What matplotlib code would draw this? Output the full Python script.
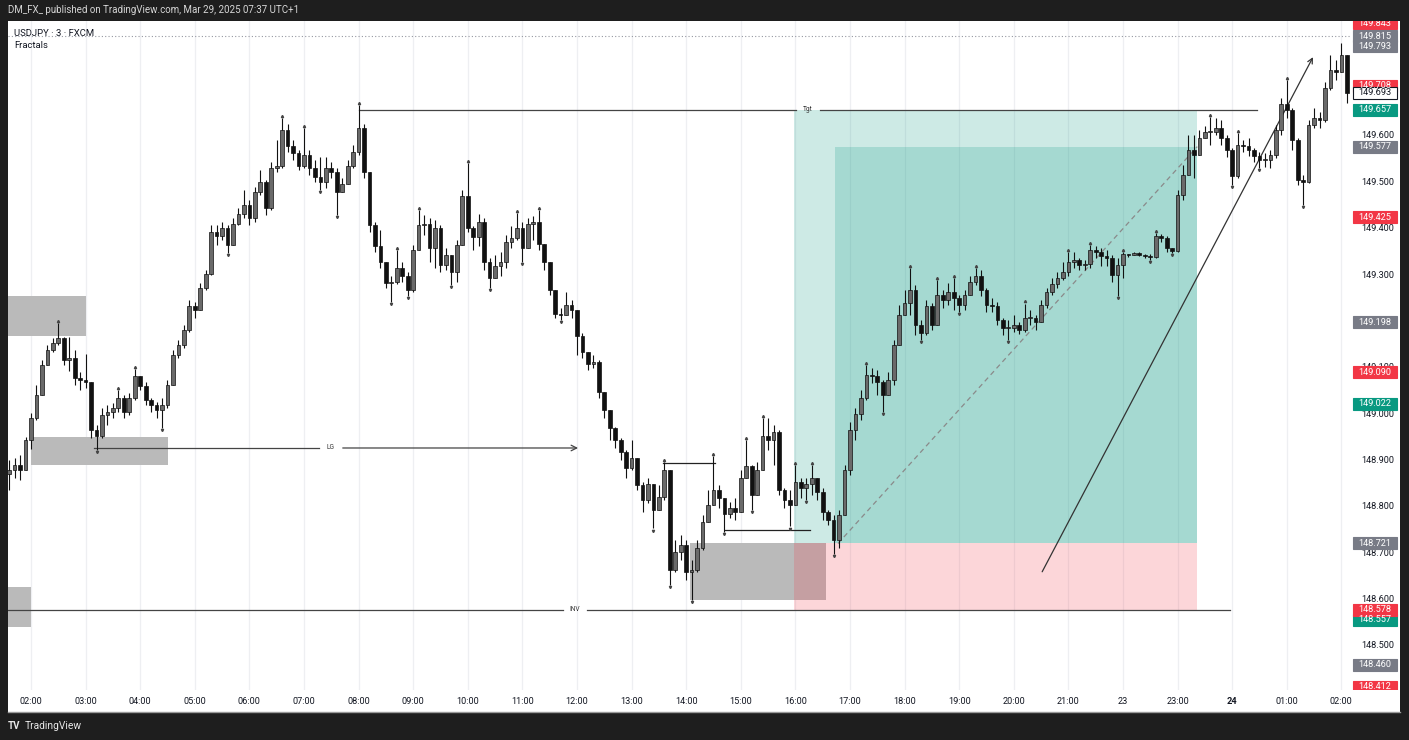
import matplotlib
matplotlib.use("Agg")
import matplotlib.pyplot as plt
import numpy as np
from matplotlib.patches import Rectangle

plt.rcParams['font.family'] = ['Roboto', 'DejaVu Sans']

# ---------------- data (USDJPY, 6-minute bars, time in hours after 02:00) ----------------
bar_hours = 0.1
first_bar_time = -0.4
first_open = 148.870

closes = [
148.880,148.890,148.880,148.944,148.992,149.042,149.106,149.138,149.153,149.164,
149.117,149.121,149.078,149.074,149.070,148.966,148.953,148.998,149.005,149.014,
149.035,149.005,149.035,149.083,149.061,149.031,149.020,149.009,149.020,149.063,
149.128,149.149,149.182,149.233,149.225,149.272,149.302,149.393,149.384,149.402,
149.365,149.410,149.432,149.451,149.423,149.479,149.501,149.445,149.531,149.535,
149.613,149.578,149.563,149.535,149.559,149.531,149.512,149.501,149.531,149.522,
149.479,149.497,149.535,149.566,149.617,149.522,149.408,149.363,149.328,149.283,
149.285,149.315,149.298,149.268,149.354,149.408,149.410,149.359,149.402,149.322,
149.343,149.307,149.365,149.471,149.402,149.382,149.415,149.328,149.294,149.320,
149.328,149.372,149.380,149.402,149.359,149.410,149.415,149.367,149.328,149.268,
149.216,149.214,149.235,149.225,149.169,149.134,149.108,149.112,149.048,149.009,
148.970,148.944,148.918,148.884,148.905,148.847,148.815,148.849,148.793,148.821,
148.880,148.664,148.703,148.718,148.660,148.664,148.711,148.767,148.804,148.836,
148.819,148.785,148.798,148.789,148.862,148.888,148.825,148.880,148.953,148.944,
148.962,148.836,148.815,148.804,148.854,148.841,148.849,148.862,148.832,148.789,
148.772,148.729,148.782,148.880,148.966,149.001,149.035,149.085,149.083,149.070,
149.042,149.074,149.149,149.214,149.240,149.268,149.192,149.175,149.233,149.192,
149.257,149.246,149.263,149.250,149.235,149.257,149.285,149.298,149.268,149.235,
149.233,149.203,149.186,149.186,149.192,149.182,149.207,149.207,149.199,149.235,
149.263,149.281,149.294,149.307,149.328,149.333,149.322,149.324,149.354,149.350,
149.341,149.337,149.300,149.322,149.345,149.343,149.348,149.343,149.341,149.339,
149.384,149.380,149.358,149.352,149.473,149.516,149.570,149.559,149.596,149.609,
149.609,149.617,149.596,149.570,149.514,149.581,149.578,149.570,149.557,149.548,
149.548,149.559,149.613,149.669,149.656,149.591,149.505,149.501,149.624,149.639,
149.635,149.704,149.742,149.738,149.775,149.693]

highs = [
148.901,148.905,148.912,148.951,149.002,149.063,149.117,149.149,149.164,149.196,
149.166,149.166,149.138,149.091,149.129,149.063,148.976,149.014,149.020,149.025,
149.052,149.042,149.046,149.097,149.083,149.070,149.035,149.027,149.035,149.074,
149.138,149.160,149.192,149.246,149.242,149.283,149.311,149.408,149.408,149.415,
149.408,149.423,149.445,149.484,149.462,149.490,149.527,149.505,149.544,149.591,
149.639,149.626,149.591,149.570,149.617,149.570,149.548,149.554,149.554,149.544,
149.531,149.510,149.548,149.581,149.667,149.626,149.522,149.415,149.397,149.328,
149.298,149.354,149.328,149.307,149.365,149.440,149.430,149.423,149.419,149.408,
149.359,149.343,149.376,149.484,149.542,149.406,149.432,149.423,149.337,149.343,
149.350,149.387,149.406,149.434,149.415,149.423,149.428,149.440,149.365,149.328,
149.268,149.229,149.263,149.246,149.225,149.175,149.134,149.128,149.117,149.042,
149.009,148.972,148.949,148.923,148.944,148.901,148.854,148.862,148.849,148.847,
148.897,148.880,148.729,148.739,148.729,148.685,148.729,148.782,148.836,148.910,
148.847,148.815,148.811,148.819,148.880,148.944,148.890,148.897,148.992,148.992,
148.977,148.966,148.841,148.836,148.890,148.862,148.862,148.890,148.862,148.841,
148.793,148.782,148.793,148.890,148.983,149.014,149.052,149.106,149.100,149.095,
149.074,149.091,149.160,149.235,149.268,149.315,149.279,149.203,149.246,149.240,
149.289,149.268,149.283,149.294,149.257,149.268,149.298,149.315,149.311,149.272,
149.250,149.242,149.207,149.203,149.214,149.199,149.238,149.225,149.214,149.246,
149.272,149.294,149.307,149.328,149.350,149.350,149.337,149.333,149.365,149.363,
149.359,149.354,149.343,149.337,149.350,149.345,149.350,149.350,149.345,149.345,
149.391,149.389,149.384,149.356,149.484,149.537,149.602,149.602,149.613,149.622,
149.641,149.639,149.635,149.602,149.574,149.606,149.591,149.596,149.574,149.566,
149.563,149.570,149.624,149.682,149.721,149.660,149.596,149.516,149.635,149.660,
149.652,149.716,149.775,149.764,149.801,149.764]

lows = [
148.836,148.862,148.858,148.880,148.925,148.987,149.042,149.117,149.134,149.149,
149.106,149.093,149.063,149.052,149.057,148.949,148.923,148.949,148.976,148.992,
149.005,148.992,148.998,149.031,149.052,149.020,149.005,148.992,148.970,149.014,
149.063,149.121,149.143,149.177,149.207,149.229,149.268,149.300,149.365,149.376,
149.348,149.376,149.408,149.423,149.408,149.415,149.473,149.430,149.440,149.522,
149.531,149.566,149.548,149.527,149.531,149.516,149.501,149.484,149.488,149.509,
149.430,149.479,149.505,149.531,149.559,149.509,149.393,149.350,149.315,149.272,
149.242,149.281,149.285,149.255,149.263,149.365,149.387,149.328,149.315,149.307,
149.311,149.279,149.285,149.365,149.393,149.354,149.363,149.311,149.272,149.294,
149.298,149.315,149.359,149.376,149.328,149.365,149.376,149.354,149.311,149.257,
149.207,149.203,149.220,149.207,149.128,149.121,149.095,149.100,149.035,148.992,
148.944,148.927,148.901,148.862,148.880,148.836,148.789,148.808,148.754,148.793,
148.815,148.632,148.660,148.685,148.642,148.599,148.660,148.707,148.782,148.815,
148.798,148.746,148.776,148.772,148.804,148.869,148.793,148.836,148.897,148.923,
148.890,148.825,148.798,148.758,148.825,148.819,148.815,148.825,148.815,148.772,
148.761,148.699,148.711,148.793,148.869,148.944,148.987,149.031,149.068,149.042,
149.005,149.048,149.063,149.149,149.214,149.214,149.171,149.160,149.171,149.182,
149.192,149.229,149.235,149.225,149.220,149.225,149.263,149.279,149.255,149.220,
149.220,149.192,149.171,149.160,149.177,149.173,149.177,149.192,149.182,149.199,
149.229,149.257,149.272,149.289,149.298,149.315,149.311,149.311,149.315,149.337,
149.320,149.320,149.285,149.255,149.294,149.339,149.343,149.341,149.337,149.333,
149.337,149.371,149.350,149.348,149.350,149.462,149.516,149.509,149.574,149.596,
149.581,149.602,149.581,149.555,149.495,149.509,149.566,149.557,149.544,149.531,
149.533,149.531,149.552,149.602,149.639,149.570,149.495,149.451,149.499,149.617,
149.617,149.630,149.699,149.721,149.738,149.671]

# time axis labels (hours after 02:00)
tick_hours = list(range(25))
tick_labels = ["02:00","03:00","04:00","05:00","06:00","07:00","08:00","09:00","10:00",
               "11:00","12:00","13:00","14:00","15:00","16:00","17:00","18:00","19:00",
               "20:00","21:00","23","23:00","24","01:00","02:00"]

# drawings
tgt_level, tgt_start, tgt_end, tgt_label_at = 149.657, 6.0, 22.45, 14.23
lg_level, lg_start, lg_end, lg_label_at = 148.927, 1.15, 10.02, 5.49
inv_level, inv_start, inv_end, inv_label_at = 148.578, -0.45, 21.96, 9.96
entry_level = 148.721
target2_level = 149.577
pos_start, pos_start2, pos_end = 13.97, 14.73, 21.36
gray_boxes = [(-0.45, 1.00, 149.169, 149.255),
              (0.00, 2.51, 148.890, 148.951),
              (-0.45, 0.00, 148.541, 148.627),
              (12.07, 14.56, 148.599, 148.721)]
short_lines = [(11.575, 12.53, 148.895), (12.71, 14.27, 148.750)]
trend_arrow = ((18.52, 148.660), (23.48, 149.770))
dotted_level = 149.815

axis_levels = [149.843, 149.793, 149.815, 149.708, 149.693, 149.657, 149.577, 149.425,
               149.198, 149.090, 149.022, 148.721, 148.557, 148.578, 148.460, 148.412]
axis_kinds = ['red', 'gray', 'gray', 'red', 'last', 'green', 'gray', 'red',
              'gray', 'red', 'green', 'gray', 'green', 'red', 'gray', 'red']
price_ticks = [148.5, 148.6, 148.7, 148.8, 148.9, 149.0, 149.1, 149.3, 149.4, 149.5, 149.6]

# ---------------- figure ----------------
W, H = 1409, 740
fig = plt.figure(figsize=(W / 100, H / 100), dpi=100)
fig.patch.set_facecolor('#1e1e1e')

def fx(px):
    return px / W

def fy(py):
    return 1 - py / H

fig.add_artist(Rectangle((fx(8), fy(712)), fx(1400) - fx(8), fy(21) - fy(712),
                         transform=fig.transFigure, facecolor='white', edgecolor='none', zorder=0))
fig.add_artist(plt.Line2D([fx(8), fx(1400)], [fy(712), fy(712)], transform=fig.transFigure,
                          color='#9a9a9a', lw=1.0))

ax = fig.add_axes([fx(8), fy(690), fx(1350) - fx(8), fy(21) - fy(690)])
ax.set_facecolor('none')
ymin, ymax = 148.405, 149.848
xmin, xmax = -0.421, 24.158
ax.set_xlim(xmin, xmax)
ax.set_ylim(ymin, ymax)
for s in ax.spines.values():
    s.set_visible(False)
ax.set_yticks([])
ax.set_xticks(tick_hours)
ax.set_xticklabels(tick_labels, fontsize=6.6, color='#131722')
for lab in ax.get_xticklabels():
    if lab.get_text() == '24':
        lab.set_fontweight('bold')
ax.tick_params(axis='x', length=0, pad=5)
for h in tick_hours:
    ax.axvline(h, color='#eeeff2', lw=0.9, zorder=0)

# dotted level line
ax.axhline(dotted_level, color='#9598a1', lw=0.8, ls=(0, (1, 2)), zorder=1)

# gray boxes
for (x0, x1, y0, y1) in gray_boxes:
    ax.add_patch(Rectangle((x0, y0), x1 - x0, y1 - y0, facecolor='#bababa', edgecolor='none', zorder=1))

# position tool zones
green = (8 / 255, 153 / 255, 129 / 255, 0.2)
pink = (242 / 255, 54 / 255, 69 / 255, 0.2)
ax.add_patch(Rectangle((pos_start, entry_level), pos_end - pos_start, tgt_level - entry_level,
                       facecolor=green, edgecolor='none', zorder=2))
ax.add_patch(Rectangle((pos_start2, entry_level), pos_end - pos_start2, target2_level - entry_level,
                       facecolor=green, edgecolor='none', zorder=2))
ax.add_patch(Rectangle((pos_start, inv_level), pos_end - pos_start, entry_level - inv_level,
                       facecolor=pink, edgecolor='none', zorder=2))
ax.plot([pos_start2 + 0.05, pos_end], [entry_level, target2_level], color='#8a8a8a', lw=0.9,
        ls=(0, (4, 3)), zorder=3)

# labelled horizontal lines with gap at label
def labelled_line(level, x0, x1, xl, text, arrow=False, gap=0.22):
    ax.plot([x0, xl - gap], [level, level], color='#444444', lw=0.9, zorder=4)
    if arrow:
        ax.annotate('', xy=(x1, level), xytext=(xl + gap, level),
                    arrowprops=dict(arrowstyle='->', color='#444444', lw=0.9,
                                    shrinkA=0, shrinkB=0), zorder=4)
    else:
        ax.plot([xl + gap, x1], [level, level], color='#444444', lw=0.9, zorder=4)
    ax.text(xl, level, text, fontsize=4.8, color='#333333', ha='center', va='center', zorder=4)

labelled_line(tgt_level, tgt_start, tgt_end, tgt_label_at, 'Tgt')
labelled_line(lg_level, lg_start, lg_end, lg_label_at, 'LG', arrow=True)
labelled_line(inv_level, inv_start, inv_end, inv_label_at, 'INV')

for (x0, x1, lv) in short_lines:
    ax.plot([x0, x1], [lv, lv], color='#222222', lw=0.9, zorder=4)

ax.annotate('', xy=trend_arrow[1], xytext=trend_arrow[0],
            arrowprops=dict(arrowstyle='->', color='#333333', lw=0.9, shrinkA=0, shrinkB=0,
                            mutation_scale=9), zorder=4)

# candles
n = len(closes)
t = first_bar_time + bar_hours * np.arange(n)
c = np.array(closes)
o = np.concatenate([[first_open], c[:-1]])
hi = np.maximum(np.array(highs), np.maximum(o, c))
lo = np.minimum(np.array(lows), np.minimum(o, c))
up = c >= o
ax.vlines(t, lo, hi, color='#111111', lw=0.8, zorder=5)
body_lo = np.minimum(o, c)
body_h = np.maximum(np.abs(c - o), 0.0015)
ax.bar(t[up], body_h[up], bottom=body_lo[up], width=0.068, color='#6a6a6a',
       edgecolor='#111111', linewidth=0.5, zorder=6)
ax.bar(t[~up], body_h[~up], bottom=body_lo[~up], width=0.068, color='#111111',
       edgecolor='#111111', linewidth=0.5, zorder=6)

# fractals indicator (2 bars each side)
hs, ls_ = np.array(highs), np.array(lows)
fu, fd = [], []
for i in range(2, n - 2):
    if hs[i] > max(hs[i - 2], hs[i - 1]) and hs[i] >= max(hs[i + 1], hs[i + 2]):
        fu.append(i)
    if ls_[i] < min(ls_[i - 2], ls_[i - 1]) and ls_[i] <= min(ls_[i + 1], ls_[i + 2]):
        fd.append(i)
ax.plot(t[fu], hs[fu] + 0.005, ls='none', marker='^', ms=1.6, color='#444444', zorder=6)
ax.plot(t[fd], ls_[fd] - 0.005, ls='none', marker='v', ms=1.6, color='#444444', zorder=6)

# texts in pane
fig.text(fx(14), fy(33), 'USDJPY · 3 · FXCM', fontsize=6.8, color='#131722', va='center', ha='left')
fig.text(fx(14), fy(46), 'Fractals', fontsize=6.8, color='#131722', va='center', ha='left')

# title bar and footer
fig.text(fx(8), fy(10), 'DM_FX_ published on TradingView.com, Mar 29, 2025 07:37 UTC+1',
         fontsize=7, color='#d6d6d6', va='center', ha='left')
fig.text(fx(8), fy(726), 'TV', fontsize=7, fontweight='bold', color='#e8e8e8', va='center', ha='left')
fig.text(fx(25), fy(726), 'TradingView', fontsize=7.4, color='#e8e8e8', va='center', ha='left')

# price scale
pax = fig.add_axes([fx(1350), fy(690), fx(1400) - fx(1350), fy(21) - fy(690)])
pax.set_xlim(0, 1)
pax.set_ylim(ymin, ymax)
pax.axis('off')
for p in price_ticks:
    pax.text(0.56, p, f'{p:.3f}', fontsize=6.6, color='#131722', ha='center', va='center',
             zorder=1, clip_on=True)
colors = {'red': '#f23645', 'gray': '#787b86', 'green': '#089981', 'last': 'white'}
half = 6.0 / 463.6
for lv, kind in zip(axis_levels, axis_kinds):
    fc = colors[kind]
    ec = '#131722' if kind == 'last' else fc
    tc = '#131722' if kind == 'last' else 'white'
    pax.add_patch(Rectangle((0.06, lv - half), 0.88, 2 * half, facecolor=fc, edgecolor=ec,
                            lw=0.8, zorder=2, clip_on=True))
    pax.text(0.5, lv, f'{lv:.3f}', fontsize=6.6, color=tc, ha='center', va='center',
             zorder=3, clip_on=True)

fig.savefig('out.png', dpi=100, facecolor=fig.get_facecolor())
